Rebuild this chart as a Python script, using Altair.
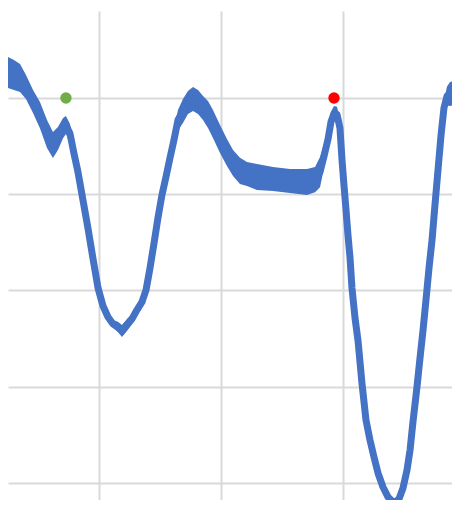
import altair as alt
import pandas as pd

# time (grid every 1.0) and signal level (grid every 1.0)
time = [0.247, 0.296, 0.346, 0.395, 0.453, 0.510, 0.568, 0.617, 0.658, 0.700,
        0.724, 0.757, 0.790, 0.823, 0.864, 0.905, 0.947, 0.988, 1.029, 1.070,
        1.111, 1.152, 1.185, 1.226, 1.267, 1.308, 1.350, 1.383, 1.416, 1.449,
        1.481, 1.514, 1.547, 1.580, 1.613, 1.646, 1.687, 1.728, 1.770, 1.811,
        1.852, 1.893, 1.934, 1.992, 2.049, 2.099, 2.156, 2.214, 2.296, 2.428,
        2.568, 2.708, 2.774, 2.815, 2.848, 2.881, 2.905, 2.930, 2.955, 2.979,
        2.996, 3.012, 3.029, 3.045, 3.062, 3.078, 3.103, 3.128, 3.160, 3.193,
        3.226, 3.259, 3.292, 3.333, 3.374, 3.407, 3.432, 3.465, 3.498, 3.531,
        3.556, 3.580, 3.613, 3.638, 3.663, 3.687, 3.712, 3.737, 3.761, 3.786,
        3.811, 3.835, 3.860, 3.885, 3.926, 3.967]
level = [4.265, 4.239, 4.208, 4.114, 3.964, 3.823, 3.626, 3.512, 3.579, 3.688,
         3.719, 3.631, 3.423, 3.231, 2.940, 2.649, 2.327, 2.026, 1.839, 1.725,
         1.652, 1.621, 1.579, 1.642, 1.704, 1.797, 1.881, 2.005, 2.234, 2.494,
         2.753, 2.992, 3.179, 3.377, 3.564, 3.771, 3.865, 3.953, 3.990, 3.958,
         3.896, 3.829, 3.730, 3.574, 3.434, 3.325, 3.242, 3.210, 3.179, 3.158,
         3.138, 3.127, 3.153, 3.231, 3.397, 3.574, 3.751, 3.839, 3.829, 3.688,
         3.356, 3.096, 2.836, 2.577, 2.338, 2.026, 1.714, 1.475, 1.039, 0.655,
         0.447, 0.270, 0.104, -0.042, -0.145, -0.187, -0.197, -0.166, -0.052, 0.135,
         0.343, 0.634, 0.997, 1.299, 1.590, 1.901, 2.234, 2.525, 2.888, 3.252,
         3.616, 3.896, 4.021, 4.042, 4.052, 4.073]
noise = [0.182, 0.177, 0.166, 0.145, 0.140, 0.156, 0.166, 0.156, 0.140, 0.125,
         0.114, 0.119, 0.088, 0.0, 0.0, 0.0, 0.0, 0.0, 0.0, 0.0,
         0.062, 0.073, 0.083, 0.083, 0.073, 0.0, 0.0, 0.0, 0.0, 0.0,
         0.0, 0.0, 0.0, 0.083, 0.125, 0.125, 0.145, 0.140, 0.145, 0.145,
         0.145, 0.161, 0.166, 0.166, 0.161, 0.156, 0.156, 0.145, 0.156, 0.145,
         0.145, 0.156, 0.151, 0.177, 0.145, 0.114, 0.125, 0.099, 0.099, 0.104,
         0.0, 0.0, 0.0, 0.0, 0.0, 0.0, 0.0, 0.0, 0.0, 0.0,
         0.0, 0.0, 0.0, 0.0, 0.0, 0.057, 0.057, 0.0, 0.0, 0.0,
         0.0, 0.0, 0.0, 0.0, 0.0, 0.0, 0.0, 0.0, 0.0, 0.0,
         0.0, 0.094, 0.119, 0.145, 0.145, 0.135]

marker_time = [0.724, 2.930]
marker_level = [4.0, 4.0]
marker_name = ["start", "peak"]
marker_colors = ["#70AD47", "#FF0000"]

x_grid = [1, 2, 3]
y_grid = [0, 1, 2, 3, 4]

STROKE_HALF = 0.02
df = pd.DataFrame({"t": time, "v": level, "n": noise})
df["hi"] = df["v"] + (df["n"] - STROKE_HALF).clip(lower=0)
df["lo"] = df["v"] - (df["n"] - STROKE_HALF).clip(lower=0)
mk = pd.DataFrame({"t": marker_time, "v": marker_level, "name": marker_name})

xs = alt.Scale(domain=[0.247, 3.967], nice=False, zero=False)
ys = alt.Scale(domain=[-0.26, 4.904], nice=False, zero=False)
xax = alt.Axis(values=x_grid, grid=True, labels=False, ticks=False, domain=False,
               title=None, gridColor="#d9d9d9", gridWidth=2)
yax = alt.Axis(values=y_grid, grid=True, labels=False, ticks=False, domain=False,
               title=None, gridColor="#d9d9d9", gridWidth=2)

blue = "#4472C4"
band = alt.Chart(df).mark_area(color=blue, opacity=1, clip=True).encode(
    x=alt.X("t:Q", scale=xs, axis=xax),
    y=alt.Y("hi:Q", scale=ys, axis=yax),
    y2="lo:Q",
)
line = alt.Chart(df).mark_line(color=blue, strokeWidth=7, strokeJoin="round",
                               strokeCap="round", clip=True).encode(
    x=alt.X("t:Q", scale=xs),
    y=alt.Y("v:Q", scale=ys),
)
pts = alt.Chart(mk).mark_point(filled=True, opacity=1, size=130, shape="circle").encode(
    x=alt.X("t:Q", scale=xs),
    y=alt.Y("v:Q", scale=ys),
    color=alt.Color("name:N", scale=alt.Scale(domain=marker_name, range=marker_colors),
                    legend=None),
)

chart = (band + line + pts).properties(
    width=452, height=497,
    padding={"left": 0, "top": 3, "right": -8, "bottom": -8},
    autosize=alt.AutoSizeParams(type="none"),
    background="white",
).configure_view(stroke=None)

chart.save("out.html", embed_options={"renderer": "svg", "actions": False})
